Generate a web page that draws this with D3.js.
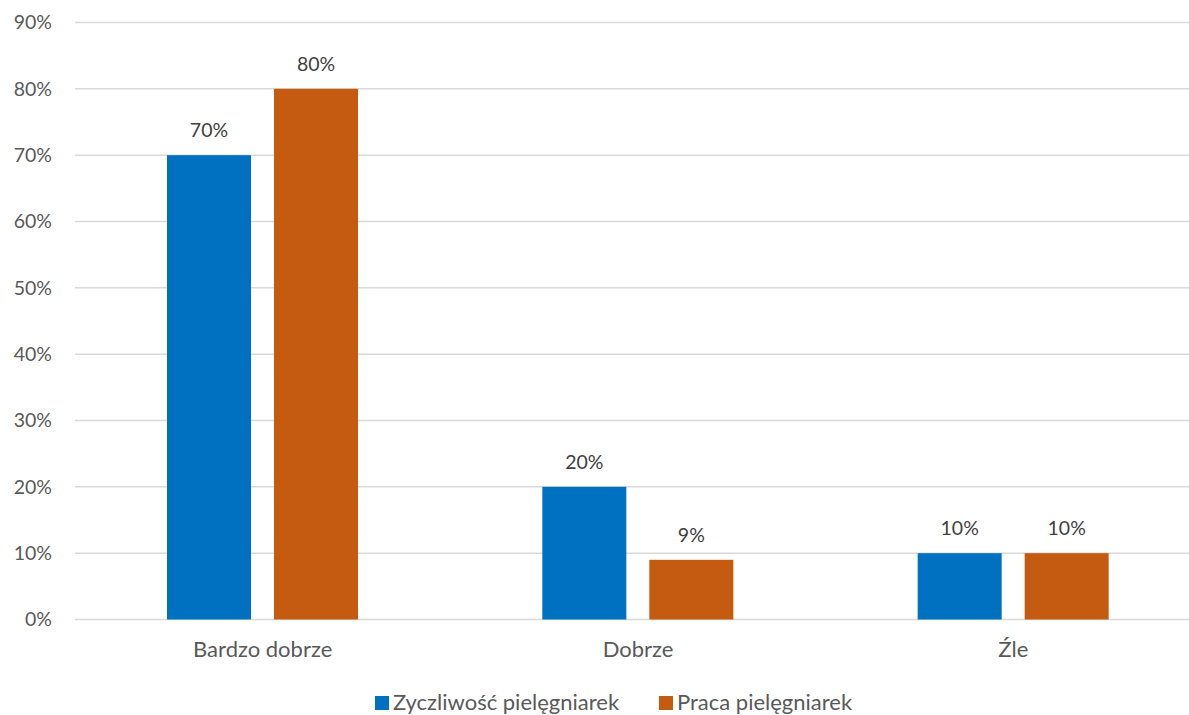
<!DOCTYPE html>
<html>
<head>
<meta charset="utf-8">
<script src="https://cdn.jsdelivr.net/npm/d3@7"></script>
<style>
  html, body { margin: 0; padding: 0; background: #fff; }
  svg { display: block; font-family: Lato, "Open Sans", sans-serif; }
</style>
</head>
<body>
<svg id="chart" width="1189" height="715"></svg>
<script>
// Survey answers per category, two series
const categories = ["Bardzo dobrze", "Dobrze", "Źle"];
const seriesNames = ["Zyczliwość pielęgniarek", "Praca pielęgniarek"];
const zyczliwosc = [70, 20, 10];
const praca = [80, 9, 10];
const yTicks = [0, 10, 20, 30, 40, 50, 60, 70, 80, 90];
const colors = ["#0070C0", "#C55A11"];

const seriesValues = [zyczliwosc, praca];
const svg = d3.select("#chart");
const textColor = "#595959";
const fontFamily = "Lato, 'Open Sans', sans-serif";

const x0 = d3.scaleBand().domain(categories).range([75, 1201]).padding(0);
const x1 = d3.scaleBand().domain(seriesNames).range([92, 283]).paddingInner(0.215).paddingOuter(0);
const y = d3.scaleLinear().domain([0, 90]).range([619.5, 22.5]);

// Horizontal gridlines
svg.append("g").selectAll("line").data(yTicks).join("line")
  .attr("x1", 75).attr("x2", 1201)
  .attr("y1", d => y(d)).attr("y2", d => y(d))
  .attr("stroke", "#d9d9d9").attr("stroke-width", 1.5);

// Y axis labels
const yAxis = d3.axisLeft(y).tickValues(yTicks).tickFormat(d => d + "%").tickSize(0).tickPadding(0);
const gy = svg.append("g").attr("transform", "translate(52,0)").call(yAxis);
gy.select(".domain").remove();
gy.selectAll("text").attr("fill", textColor).style("font-size", "19.5px").style("font-family", fontFamily);

// Category labels
const xAxis = d3.axisBottom(x0).tickSize(0).tickPadding(0);
const gx = svg.append("g").attr("transform", "translate(0,641)").call(xAxis);
gx.select(".domain").remove();
gx.selectAll("text").attr("fill", textColor).style("font-size", "22px").style("font-family", fontFamily);

// Bars and value labels
const rows = [];
categories.forEach((c, i) => {
  seriesNames.forEach((s, j) => rows.push({ cat: c, series: s, value: seriesValues[j][i], color: colors[j] }));
});

svg.append("g").selectAll("rect").data(rows).join("rect")
  .attr("x", d => x0(d.cat) + x1(d.series))
  .attr("width", x1.bandwidth())
  .attr("y", d => y(d.value))
  .attr("height", d => y(0) - y(d.value))
  .attr("fill", d => d.color);

svg.append("g").selectAll("text").data(rows).join("text")
  .attr("x", d => x0(d.cat) + x1(d.series) + x1.bandwidth() / 2)
  .attr("y", d => y(d.value) - 18)
  .attr("text-anchor", "middle")
  .attr("fill", "#404040")
  .style("font-size", "19.5px")
  .text(d => d.value + "%");

// Legend
const legend = svg.append("g");
const legendX = [375, 659];
seriesNames.forEach((s, j) => {
  legend.append("rect").attr("x", legendX[j]).attr("y", 696).attr("width", 14).attr("height", 14).attr("fill", colors[j]);
  legend.append("text").attr("x", legendX[j] + 18).attr("y", 710)
    .attr("fill", textColor).style("font-size", "22px").text(s);
});
</script>
</body>
</html>
